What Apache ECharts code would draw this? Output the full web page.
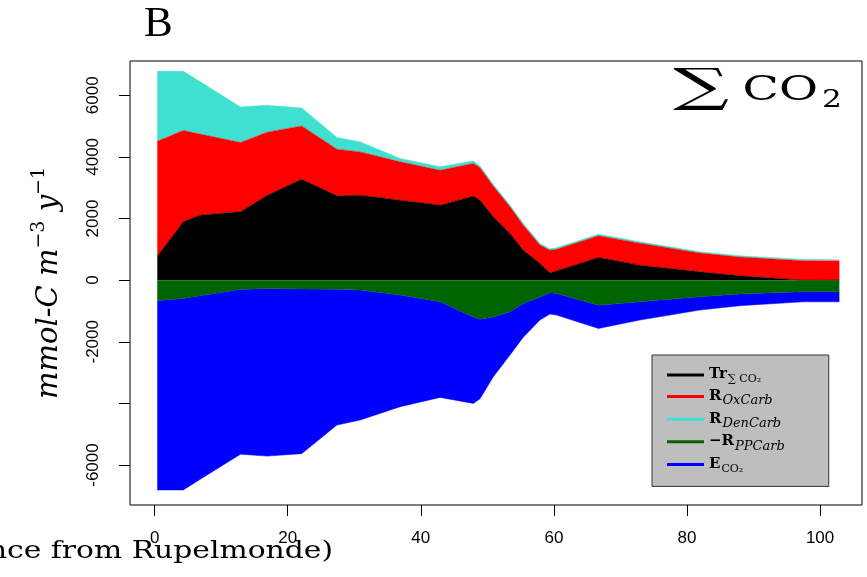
<!DOCTYPE html>
<html><head><meta charset="utf-8">
<script src="https://cdn.jsdelivr.net/npm/echarts@6/dist/echarts.min.js"></script>
<style>html,body{margin:0;padding:0;background:#fff}#c{width:867px;height:577px}</style>
</head><body><div id="c"></div>
<script>
// distance from Rupelmonde (km)
const distance   = [0.4,4.3,6.8,12.9,16.9,22.1,27.4,30.9,36.9,42.9,47.9,48.9,50.9,53.4,55.4,57.9,59.4,60.4,66.7,72.9,81.9,87.9,97.4,102.9];
const trCO2      = [778,1892,2108,2216,2750,3275,2735,2756,2594,2432,2724,2594,2053,1513,973,541,238,300,735,486,270,140,0,0];
const rOxCarb    = [3730,2962,2633,2249,2050,1730,1513,1406,1244,1135,1060,1056,997,867,807,599,732,700,705,714,610,610,630,625];
const rDenCarb   = [2270,1924,1701,1156,875,583,379,324,108,109,86,50,50,52,58,49,46,48,52,43,39,39,40,45];
const negRPPCarb = [-671,-594,-510,-300,-275,-285,-292,-324,-486,-703,-1200,-1270,-1200,-1027,-757,-550,-411,-432,-811,-703,-540,-454,-378,-378];
const eCO2       = [-6139,-6216,-5960,-5350,-5435,-5345,-4410,-4216,-3622,-3102,-2800,-2580,-1935,-1405,-1093,-747,-692,-703,-756,-594,-433,-378,-325,-325];

const xTicks = [0,20,40,60,80,100];
const yTicks = [-6000,-4000,-2000,0,2000,4000,6000];
const yLabels = [-6000,-2000,0,2000,4000,6000];

const seriesNames = ['Tr','ROx','RDen','RPP','E'];
const seriesColors = ['#000000','#FF0000','#40E0D0','#006400','#0000FF'];
const seriesValues = [trCO2, rOxCarb, rDenCarb, negRPPCarb, eCO2];

const legendLabels = {
  Tr: '{b|Tr}{sub|∑ CO₂}',
  ROx: '{b|R}{subi|OxCarb}',
  RDen: '{b|R}{subi|DenCarb}',
  RPP: '{b|−R}{subi|PPCarb}',
  E: '{b|E}{sub|CO₂}'
};

const chart = echarts.init(document.getElementById('c'), null, {renderer:'canvas'});
const serif = "'DejaVu Serif', 'Liberation Serif', serif";
const sans = "'Liberation Sans', Arial, sans-serif";

chart.setOption({
  animation: false,
  backgroundColor: '#ffffff',
  title: {
    text: 'B', left: 139, top: -2,
    textStyle: {fontFamily: "'Liberation Serif', serif", fontWeight: 'normal', fontSize: 43, color: '#000'}
  },
  grid: {left: 130, top: 61, right: 5, bottom: 72, show: true, borderColor: '#000', borderWidth: 1, backgroundColor: 'transparent'},
  xAxis: {
    type: 'value', min: -3.7, max: 106.3,
    axisLine: {show: false, onZero: false},
    axisTick: {show: true, length: 11, lineStyle: {color: '#000'}, customValues: xTicks},
    axisLabel: {margin: 25, fontFamily: sans, fontSize: 17, color: '#000', customValues: xTicks, formatter: v => String(v)},
    splitLine: {show: false}
  },
  yAxis: {
    type: 'value', min: -7297, max: 7111,
    axisLine: {show: false, onZero: false},
    axisTick: {show: true, length: 11, lineStyle: {color: '#000'}, customValues: yTicks},
    axisLabel: {margin: 28, rotate: 90, fontFamily: sans, fontSize: 17, color: '#000', customValues: yLabels, formatter: v => String(v)},
    splitLine: {show: false},
    name: '{it|mmol-C m}{sup|−3}{it| y}{sup|−1}',
    nameLocation: 'middle', nameGap: 66, nameRotate: 90,
    nameTextStyle: {
      rich: {
        it: {fontFamily: serif, fontStyle: 'italic', fontSize: 29, color: '#000', lineHeight: 34, verticalAlign: 'bottom'},
        sup: {fontFamily: serif, fontSize: 19, color: '#000', lineHeight: 22, verticalAlign: 'top'}
      }
    }
  },
  legend: {
    orient: 'vertical', left: 652, top: 355,
    icon: 'rect', itemWidth: 37, itemHeight: 3, itemGap: 3.6, itemTextGap: 19,
    padding: [12, 44, 12, 15],
    backgroundColor: '#bebebe', borderColor: '#333', borderWidth: 1,
    data: seriesNames,
    formatter: n => legendLabels[n],
    textStyle: {
      rich: {
        b: {fontFamily: serif, fontWeight: 'bold', fontSize: 15, lineHeight: 16, verticalAlign: 'top', color: '#000'},
        sub: {fontFamily: serif, fontSize: 11, lineHeight: 10, padding: [7,0,0,1], verticalAlign: 'top', color: '#000'},
        subi: {fontFamily: serif, fontStyle: 'italic', fontSize: 13, lineHeight: 10, padding: [6,0,0,1], verticalAlign: 'top', color: '#000'}
      }
    }
  },
  graphic: [
    {type: 'text', x: 729, y: 89, scaleX: 1.7,
     style: {text: '∑', font: "46px 'DejaVu Serif', serif", fill: '#000', textAlign: 'right', textVerticalAlign: 'middle'}},
    {type: 'text', x: 818, y: 91, scaleX: 1.4,
     style: {text: 'CO', font: "34px 'DejaVu Serif', serif", fill: '#000', textAlign: 'right', textVerticalAlign: 'middle'}},
    {type: 'text', x: 822, y: 101, scaleX: 1.3,
     style: {text: '2', font: "24px 'DejaVu Serif', serif", fill: '#000', textAlign: 'left', textVerticalAlign: 'middle'}},
    {type: 'text', x: 333, y: 552, scaleX: 1.24,
     style: {text: 'Km (Distance from Rupelmonde)', font: "24px 'DejaVu Serif', serif", fill: '#000', textAlign: 'right', textVerticalAlign: 'middle'}}
  ],
  series: seriesNames.map((n, i) => ({
    name: n, type: 'line', stack: 'all', color: seriesColors[i],
    showSymbol: false, symbol: 'none',
    lineStyle: {width: 0.5, color: seriesColors[i]},
    areaStyle: {color: seriesColors[i], opacity: 1},
    encode: {x: 1, y: 0},
    data: distance.map((d, j) => [seriesValues[i][j], d])
  }))
});
</script></body></html>
